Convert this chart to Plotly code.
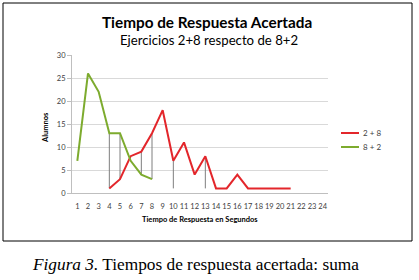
import plotly.graph_objects as go

# Data
x_red = [4, 5, 6, 7, 8, 9, 10, 11, 12, 13, 14, 15, 16, 17, 18, 19, 20, 21]
y_red = [1, 3, 8, 9, 13, 18, 7, 11, 4, 8, 1, 1, 4, 1, 1, 1, 1, 1]
x_green = [1, 2, 3, 4, 5, 6, 7, 8]
y_green = [7, 26, 22, 13, 13, 7, 4, 3]
drop_x = [4, 5, 7, 8, 10, 13]
drop_low = [1, 3, 4, 3, 1, 1]
drop_high = [13, 13, 9, 13, 7, 8]
x_ticks = list(range(1, 25))
y_ticks = [0, 5, 10, 15, 20, 25, 30]
series_names = ["2 + 8", "8 + 2"]
series_colors = ["#e3262b", "#7dab2e"]

W, H = 419, 280
L, R, T, B = 72, 328, 55, 193

def px(x):
    return (x - L) / (R - L)

def py(y):
    return (B - y) / (B - T)

fig = go.Figure()

# high-low drop lines
dx, dy = [], []
for xv, lo, hi in zip(drop_x, drop_low, drop_high):
    dx += [xv, xv, None]
    dy += [lo, hi, None]
fig.add_trace(go.Scatter(x=dx, y=dy, mode="lines", line=dict(color="#7f7f7f", width=1),
                         showlegend=False, hoverinfo="skip"))

fig.add_trace(go.Scatter(x=x_red, y=y_red, mode="lines", name=series_names[0],
                         line=dict(color=series_colors[0], width=2)))
fig.add_trace(go.Scatter(x=x_green, y=y_green, mode="lines", name=series_names[1],
                         line=dict(color=series_colors[1], width=2)))

tickfont = dict(family="Lato, sans-serif", size=7.5, color="#404040")

fig.update_layout(
    width=W, height=H,
    margin=dict(l=L, r=W - R, t=T, b=H - B, autoexpand=False),
    paper_bgcolor="white", plot_bgcolor="white",
    showlegend=False,
    xaxis=dict(range=[0.5, 24.5], tickmode="array", tickvals=x_ticks,
               ticktext=[str(v) for v in x_ticks], showgrid=False,
               showline=True, linecolor="#bfbfbf", linewidth=1, tickangle=0,
               automargin=False,
               ticks="", tickfont=tickfont, zeroline=False, ticklabelstandoff=6),
    yaxis=dict(range=[0, 30], tickmode="array", tickvals=y_ticks,
               showgrid=True, gridcolor="#d9d9d9", gridwidth=1,
               showline=True, linecolor="#bfbfbf", linewidth=1, automargin=False,
               ticks="outside", ticklen=4, tickcolor="#bfbfbf",
               tickfont=tickfont, zeroline=False),
)

annotations = [
    dict(text="<b>Tiempo de Respuesta Acertada</b>", x=px(207), y=py(22),
         font=dict(family="Lato, sans-serif", size=15.3, color="#000000")),
    dict(text="Ejercicios 2+8 respecto de 8+2", x=px(209), y=py(40),
         font=dict(family="Lato, sans-serif", size=13.2, color="#000000")),
    dict(text="<b>Alumnos</b>", x=px(45), y=py(128), textangle=-90,
         font=dict(family="Lato, sans-serif", size=7.5, color="#000000")),
    dict(text="<b>Tiempo de Respuesta en Segundos</b>", x=px(200), y=py(219),
         font=dict(family="Lato, sans-serif", size=7.5, color="#000000")),
    dict(text="<i>Figura 3.</i> Tiempos de respuesta acertada: suma", x=px(30), y=py(264),
         xanchor="left",
         font=dict(family="Liberation Serif, serif", size=17.3, color="#000000")),
]
# manual legend
for i, (nm, col) in enumerate(zip(series_names, series_colors)):
    yy = 133 + 14 * i
    fig.add_shape(type="line", xref="paper", yref="paper",
                  x0=px(341), x1=px(359), y0=py(yy), y1=py(yy),
                  line=dict(color=col, width=2))
    annotations.append(dict(text=nm, x=px(361), y=py(yy), xanchor="left",
                            font=dict(family="Lato, sans-serif", size=8, color="#404040")))

for a in annotations:
    a.setdefault("xanchor", "center")
    a.update(xref="paper", yref="paper", yanchor="middle", showarrow=False)
    fig.add_annotation(**a)

fig.add_shape(type="rect", xref="paper", yref="paper",
              x0=px(3), x1=px(412), y0=py(241), y1=py(3),
              line=dict(color="#000000", width=1), fillcolor="rgba(0,0,0,0)")

fig.write_html("out.html", config={"displayModeBar": False},
               post_script="document.body.style.margin='0';")
